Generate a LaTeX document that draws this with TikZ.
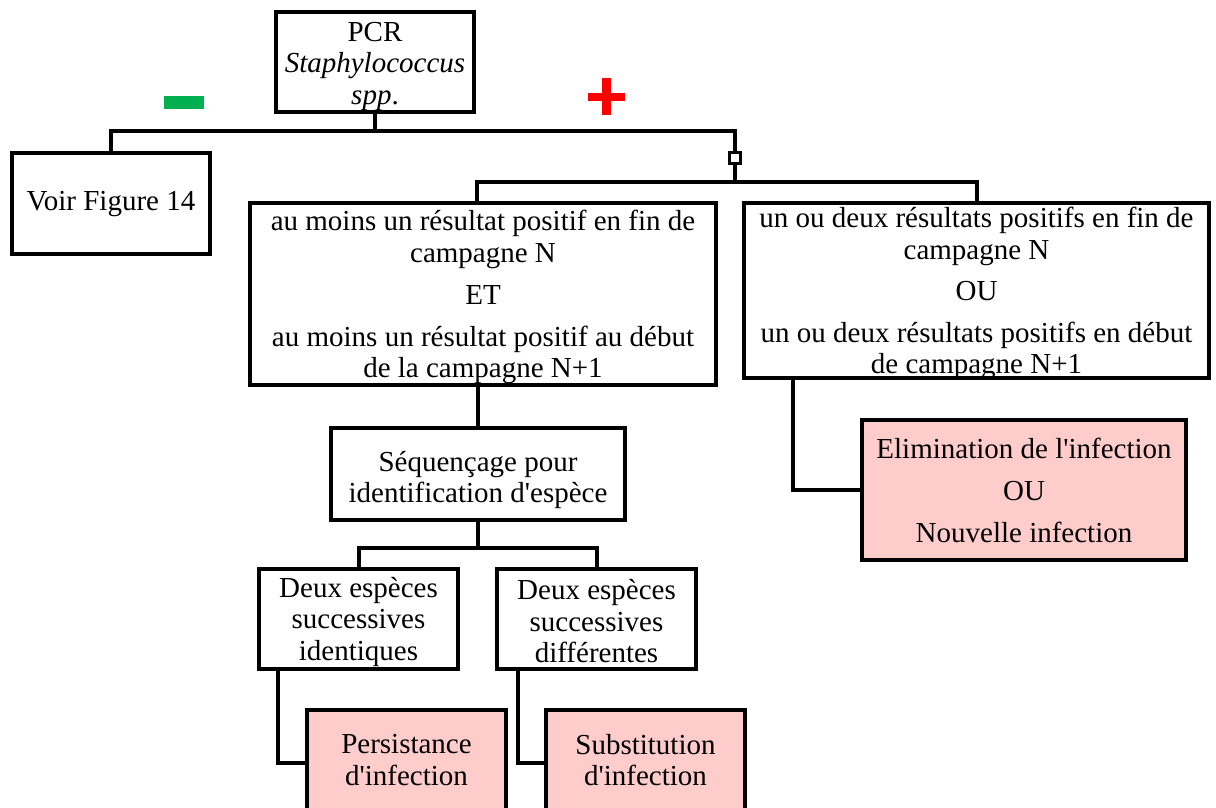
\documentclass[tikz,border=0pt]{standalone}
\usepackage{fontspec}
\setmainfont{Liberation Serif}
\definecolor{pinkfill}{RGB}{255,204,204}
\definecolor{minusgreen}{RGB}{0,176,80}
\newcommand{\apos}{\textquotesingle}
\begin{document}
\begin{tikzpicture}[x=1pt,y=-1pt,
  box/.style={draw, line width=4pt, rectangle, inner sep=0pt},
  pinkbox/.style={box, fill=pinkfill},
  txt/.style={inner sep=0pt, align=center, font=\fontsize{29}{31.5}\selectfont},
  link/.style={line width=4pt, line cap=rect}]
\clip (0,0) rectangle (1216,807);
\fill[white] (0,0) rectangle (1216,807);

% boxes
\node[box, minimum width=198, minimum height=100] (pcr) at (375,62) {};
\node[box, minimum width=198, minimum height=101] (voir) at (111,203.5) {};
\node[box, minimum width=466, minimum height=182] (left) at (483,294) {};
\node[box, minimum width=465, minimum height=175] (right) at (976.5,290.5) {};
\node[box, minimum width=294, minimum height=92] (seq) at (478,474) {};
\node[box, minimum width=199, minimum height=100] (ident) at (358.5,619) {};
\node[box, minimum width=199, minimum height=100] (diff) at (596.5,619) {};
\node[pinkbox, minimum width=199, minimum height=100] (pers) at (406.5,760) {};
\node[pinkbox, minimum width=199, minimum height=100] (subst) at (645.5,760) {};
\node[pinkbox, minimum width=324, minimum height=140] (elim) at (1024,490) {};

% box texts
\node[txt] (pcrtext) at ([yshift=-4pt]pcr.center)
  {PCR\\\textit{Staphylococcus}\\\textit{spp}.};
\node[txt] (voirtext) at ([yshift=-1pt]voir.center) {Voir Figure 14};
\node[txt] (lefttext) at ([yshift=-3pt]left.center)
  {au moins un résultat positif en fin de\\campagne N\\[10.5pt]ET\\[10.5pt]au moins un résultat positif au début\\de la campagne N+1};
\node[txt] (righttext) at ([yshift=-3pt]right.center)
  {un ou deux résultats positifs en fin de\\campagne N\\[10pt]OU\\[10pt]un ou deux résultats positifs en début\\de campagne N+1};
\node[txt] (seqtext) at ([yshift=-6pt]seq.center)
  {Séquençage pour\\identification d\apos espèce};
\node[txt] (identtext) at ([yshift=-2.5pt]ident.center)
  {Deux espèces\\successives\\identiques};
\node[txt] (difftext) at ([yshift=-2.5pt]diff.center)
  {Deux espèces\\successives\\différentes};
\node[txt] (perstext) at (pers.center) {Persistance\\d\apos infection};
\node[txt] (substtext) at (subst.center) {Substitution\\d\apos infection};
\node[txt] (elimtext) at (elim.center)
  {Elimination de l\apos infection\\[10.5pt]OU\\[10.5pt]Nouvelle infection};

% junction points
\coordinate (j1) at (375,131);
\coordinate (j2) at (735,182);
\coordinate (j3) at (478,548);

% connectors
\draw[link] (pcr.south) -- (j1);
\draw[link] (voir.north) |- (j1);
\draw[link] (j1) -| (j2);
\draw[link] ([xshift=-6pt]left.north) |- (j2) -| (right.north);
\node[draw, fill=white, line width=3pt, minimum size=11pt, inner sep=0pt] (tick) at (735,157.5) {};
\draw[link] (seq.north |- left.south) -- (seq.north);
\draw[link] (seq.south) -- (j3);
\draw[link] (ident.north) |- (j3) -| (diff.north);
\draw[link] ([xshift=-81pt]ident.south) |- ([yshift=-3pt]pers.west);
\draw[link] ([xshift=-78.5pt]diff.south) |- ([yshift=-3pt]subst.west);
\draw[link] ([xshift=-183.5pt]right.south) |- (elim.west);

% signs
\fill[minusgreen] (164,95.5) rectangle (204,109);
\fill[red] (588,92.7) rectangle (625,100.7);
\fill[red] (602.3,78) rectangle (610.8,115);
\end{tikzpicture}
\end{document}
